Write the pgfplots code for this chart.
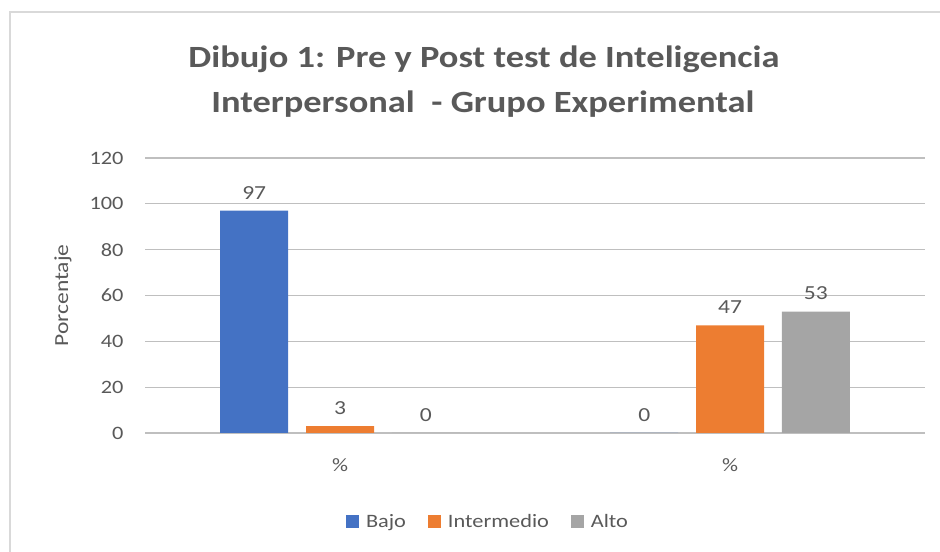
\documentclass[border=0pt]{standalone}
\usepackage{pgfplots}
\pgfplotsset{compat=1.18}
\usepackage{fontspec}
\setmainfont{Carlito}[FakeStretch=1.18]
\definecolor{cblue}{HTML}{4472C4}
\definecolor{corange}{HTML}{ED7D31}
\definecolor{cgray}{HTML}{A5A5A5}
\definecolor{grid}{HTML}{D9D9D9}
\definecolor{txt}{HTML}{595959}
\begin{document}
\begin{tikzpicture}[x=1bp,y=1bp]
\useasboundingbox (0,0) rectangle (940,552);
\draw[grid, line width=1.5bp] (10,0) -- (10,540) -- (940,540);
\node[txt, font=\fontsize{31}{36}\selectfont\bfseries] at (484,493) {Dibujo 1: Pre y Post test de Inteligencia};
\node[txt, font=\fontsize{31}{36}\selectfont\bfseries] at (483,448) {Interpersonal\ \ - Grupo Experimental};
\begin{axis}[
  at={(145bp,119bp)}, anchor=south west,
  scale only axis, width=780bp, height=275bp,
  xmin=-0.5, xmax=1.5, ymin=0, ymax=120,
  ytick={0,20,...,120},
  xtick={0,1}, xticklabels={\%,\%},
  ybar, bar width=68bp,
  axis line style={draw=none},
  major tick length=0pt, tick style={draw=none},
  xmajorgrids=false, ymajorgrids, grid style={grid, line width=1.2bp},
  ticklabel style={txt, font=\fontsize{19}{22}\selectfont},
  /pgf/number format/assume math mode=true,
  yticklabel style={xshift=-18bp},
  xticklabel style={yshift=-22bp},
  ylabel={Porcentaje},
  every axis y label/.style={at={(63bp-145bp,137.5bp)}, rotate=90, anchor=center, txt, font=\fontsize{20}{24}\selectfont},
  nodes near coords, every node near coord/.style={txt, font=\fontsize{20}{24}\selectfont, yshift=8bp},
  clip=false,
  legend style={at={(343bp,-89bp)}, anchor=center, draw=none, fill=none,
    legend columns=3, font=\fontsize{19}{22}\selectfont, text=txt,
    /tikz/every even column/.append style={column sep=20bp},
    /tikz/every odd column/.append style={column sep=5bp}},
  legend image code/.code={\fill[#1] (0,-6.5bp) rectangle (13bp,6.5bp);},
]
\addplot[fill=cblue, draw=none, bar shift=0pt] coordinates {(-0.22,97) (0.78,0)};
\addplot[fill=corange, draw=none, bar shift=0pt] coordinates {(0,3) (1,47)};
\addplot[fill=cgray, draw=none, bar shift=0pt] coordinates {(0.22,0) (1.22,53)};
\legend{Bajo, Intermedio, Alto}
\end{axis}
\end{tikzpicture}
\end{document}
